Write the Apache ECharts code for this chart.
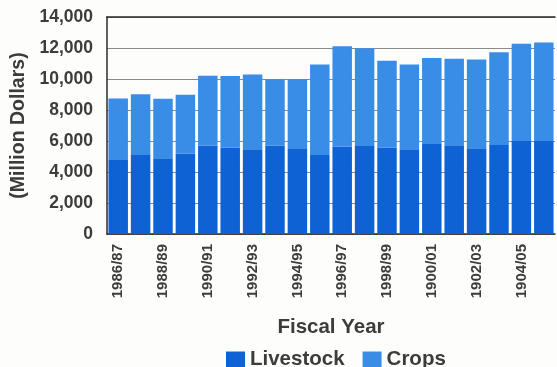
<!DOCTYPE html>
<html>
<head>
<meta charset="utf-8">
<script src="https://cdn.jsdelivr.net/npm/echarts@6/dist/echarts.min.js"></script>
<style>
  html, body { margin: 0; padding: 0; background: #fdfdfc; }
  #chart { width: 557px; height: 367px; }
</style>
</head>
<body>
<div id="chart"></div>
<script>
// Fiscal years (as labelled on the axis)
const years = [
  '1986/87', '1987/88', '1988/89', '1989/90', '1990/91', '1991/92', '1992/93',
  '1993/94', '1994/95', '1995/96', '1996/97', '1997/98', '1998/99', '1999/00',
  '1900/01', '1901/02', '1902/03', '1903/04', '1904/05', '1905/06'
];
// Export values, million dollars
const livestock = [
  4780, 5100, 4890, 5170, 5700, 5580, 5470, 5700, 5490, 5100,
  5640, 5680, 5580, 5470, 5810, 5730, 5530, 5750, 6000, 6000
];
const crops = [
  3970, 3910, 3840, 3810, 4510, 4610, 4820, 4290, 4500, 5840,
  6480, 6310, 5590, 5470, 5540, 5570, 5730, 5980, 6270, 6350
];
const seriesNames = ['Livestock', 'Crops'];

const textColor = '#3c3c3c';
const font = 'Liberation Sans, Arial, sans-serif';

const chart = echarts.init(document.getElementById('chart'), null, { renderer: 'canvas' });
chart.setOption({
  animation: false,
  backgroundColor: '#fdfdfc',
  textStyle: { fontFamily: font },
  grid: { left: 107, right: 2, top: 17, bottom: 133 },
  legend: {
    data: seriesNames,
    left: 221,
    top: 344,
    itemWidth: 19,
    itemHeight: 16,
    itemGap: 18,
    icon: 'rect',
    textStyle: { color: textColor, fontSize: 20.5, fontWeight: 'bold', fontFamily: font }
  },
  xAxis: [{
    type: 'category',
    data: years,
    position: 'bottom',
    axisLine: { lineStyle: { color: '#2a2a2a', width: 1.5 } },
    axisTick: { show: false },
    axisLabel: {
      interval: 1,
      rotate: 90,
      margin: 10,
      color: textColor,
      fontSize: 15,
      fontWeight: 'bold',
      fontFamily: font
    },
    name: 'Fiscal Year',
    nameLocation: 'middle',
    nameGap: 83,
    nameTextStyle: { color: textColor, fontSize: 20.5, fontWeight: 'bold', fontFamily: font }
  }, {
    // plain top frame line
    type: 'category',
    data: years,
    position: 'top',
    axisLine: { show: true, lineStyle: { color: '#2a2a2a', width: 1.5 } },
    axisTick: { show: false },
    axisLabel: { show: false }
  }],
  yAxis: {
    type: 'value',
    min: 0,
    max: 14000,
    interval: 2000,
    axisLine: { show: true, lineStyle: { color: '#2a2a2a', width: 1.5 } },
    axisTick: { show: false },
    splitLine: { lineStyle: { color: '#8a8a8a', width: 1 } },
    axisLabel: {
      margin: 14,
      color: textColor,
      fontSize: 17.5,
      fontWeight: 'bold',
      fontFamily: font,
      formatter: v => v.toLocaleString('en-US')
    },
    name: '(Million Dollars)',
    nameLocation: 'middle',
    nameGap: 76,
    nameTextStyle: { color: textColor, fontSize: 19.5, fontWeight: 'bold', fontFamily: font }
  },
  series: [{
    name: seriesNames[0],
    type: 'bar',
    stack: 'total',
    data: livestock,
    barCategoryGap: '13%',
    itemStyle: { color: '#0e62d4' }
  }, {
    name: seriesNames[1],
    type: 'bar',
    stack: 'total',
    data: crops,
    barCategoryGap: '13%',
    itemStyle: { color: '#3a8de6' }
  }]
});
</script>
</body>
</html>
